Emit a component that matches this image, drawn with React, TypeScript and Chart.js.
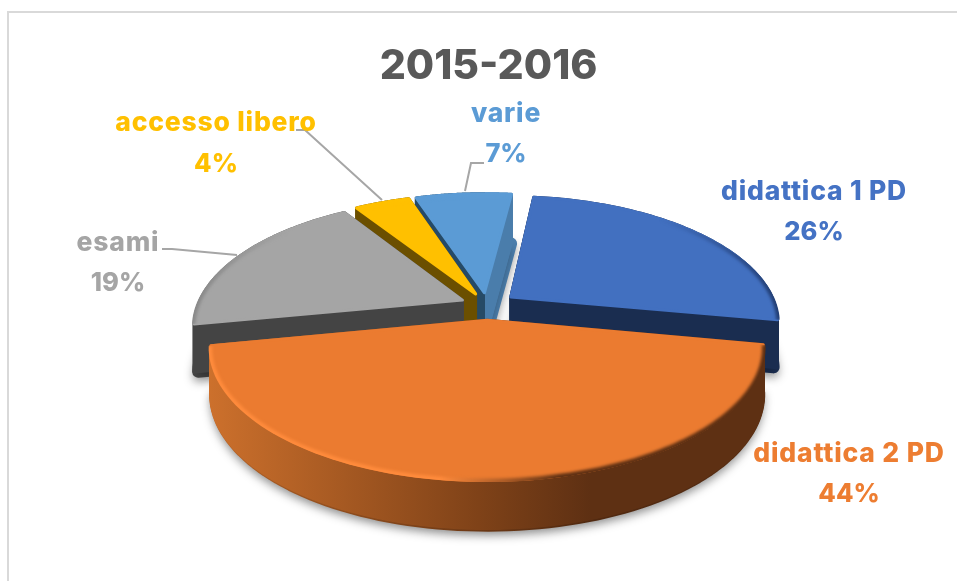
import React, { useEffect, useRef } from "react";
import { Chart, registerables } from "chart.js";

Chart.register(...registerables);

const categories = ["didattica 1 PD", "didattica 2 PD", "esami", "accesso libero", "varie"];
const shares = [26, 44, 19, 4, 7];
const chartTitle = "2015-2016";
const topColors = ["#4270c0", "#eb7b30", "#a5a5a5", "#ffc000", "#5b9bd5"];
const labelColors = ["#4472c4", "#ed7d31", "#a5a5a5", "#ffc000", "#5b9bd5"];

const explodes = [0.112, 0.12, 0.101, 0.101, 0.101];
const drawOrder = [4, 3, 2, 0, 1];
const sideStops: [number, string][][] = [
  [[0, "#1a2d50"], [1, "#1a2d50"]],
  [[0, "#cc702c"], [0.48, "#7f4218"], [0.68, "#5e3013"], [1, "#5e3013"]],
  [[0, "#444444"], [1, "#444444"]],
  [[0, "#6b4f00"], [1, "#6b4f00"]],
  [[0, "#264a66"], [0.5, "#264a66"], [0.5, "#4a7dab"], [1, "#4a7dab"]],
];
const sideRange: [number, number][] = [[500, 790], [210, 770], [190, 470], [350, 480], [475, 495]];
const rimColors = [
  ["rgba(40,70,130,0)", "#223f75"],
  ["#ff8b3c", "#5e3013"],
  ["#8a8a8a", "rgba(140,140,140,0)"],
  ["#ffc000", "#ffc000"],
  ["#5b9bd5", "#5b9bd5"],
];
const rimRange: [number, number][] = [[660, 775], [440, 560], [200, 290], [0, 1], [0, 1]];
const labelBoxes = [
  { x: 814, y1: 200, y2: 240 },
  { x: 849, y1: 462, y2: 502 },
  { x: 118, y1: 251, y2: 291 },
  { x: 216, y1: 131, y2: 172 },
  { x: 506, y1: 122, y2: 162 },
];
const leaders: [number, number][][] = [
  [],
  [],
  [[162, 249], [172, 249], [237, 255]],
  [[296, 130], [305, 130], [382, 200]],
  [[484, 163], [471, 163], [465, 191]],
];

// projection of the pie plane to the screen
const CX = 487, CY = 305, SX = 266.5, KY = 123.6, P = 0.195, DEPTH = 54;
const project = (u: number, v: number): [number, number] => {
  const w = 1 - P * v;
  return [CX + (SX * u) / w, CY + (KY * v) / w];
};

function arcPoints(el: any, radius: number) {
  const mid = (el.startAngle + el.endAngle) / 2;
  const e = explodes[el.$context.index];
  const ou = e * Math.cos(mid), ov = e * Math.sin(mid);
  const pts: [number, number][] = [];
  const n = 90;
  for (let i = 0; i <= n; i++) {
    const a = el.startAngle + ((el.endAngle - el.startAngle) * i) / n;
    pts.push(project(ou + radius * Math.cos(a), ov + radius * Math.sin(a)));
  }
  return { pts, apex: project(ou, ov) };
}

function tracePath(ctx: CanvasRenderingContext2D, el: any, dy: number, radius = 0.992) {
  const { pts, apex } = arcPoints(el, radius);
  ctx.beginPath();
  ctx.moveTo(apex[0], apex[1] + dy);
  pts.forEach((p) => ctx.lineTo(p[0], p[1] + dy));
  ctx.closePath();
}

const pie3d = {
  id: "pie3d",
  beforeDatasetsDraw(chart: any) {
    const ctx: CanvasRenderingContext2D = chart.ctx;
    const meta = chart.getDatasetMeta(0);
    meta.data.forEach((el: any, i: number) => {
      el.$context = el.$context || {};
      el.$context.index = i;
    });
    ctx.save();
    ctx.lineJoin = "round";
    for (const i of drawOrder) {
      const el = meta.data[i];
      const [x0, x1] = sideRange[i];
      const grad = ctx.createLinearGradient(x0, 0, x1, 0);
      sideStops[i].forEach(([s, c]) => grad.addColorStop(s, c));
      ctx.fillStyle = grad;
      ctx.strokeStyle = grad;

      // base with soft cast shadow and rounded corners
      ctx.save();
      ctx.shadowColor = "rgba(0,0,0,0.3)";
      ctx.shadowBlur = 9;
      ctx.shadowOffsetY = 5;
      ctx.lineWidth = 12;
      tracePath(ctx, el, DEPTH - 6, 0.978);
      ctx.stroke();
      ctx.fill();
      ctx.restore();

      // swept wall
      ctx.lineWidth = 3;
      for (let d = DEPTH - 6; d >= 0; d--) {
        tracePath(ctx, el, d);
        ctx.fill();
        ctx.stroke();
      }

      // top face
      ctx.fillStyle = topColors[i];
      ctx.strokeStyle = topColors[i];
      tracePath(ctx, el, 0);
      ctx.fill();
      ctx.stroke();

      // rim bevel
      ctx.save();
      tracePath(ctx, el, 0, 1);
      ctx.clip();
      const [r0, r1] = rimRange[i];
      const rim = ctx.createLinearGradient(r0, 0, r1, 0);
      rim.addColorStop(0, rimColors[i][0]);
      rim.addColorStop(1, rimColors[i][1]);
      ctx.filter = "blur(1.6px)";
      ctx.strokeStyle = rim;
      ctx.lineWidth = 7;
      const { pts } = arcPoints(el, 1);
      ctx.beginPath();
      pts.forEach((p, k) => (k ? ctx.lineTo(p[0], p[1]) : ctx.moveTo(p[0], p[1])));
      ctx.stroke();
      ctx.restore();
    }
    ctx.restore();
    return false;
  },
  afterDraw(chart: any) {
    const ctx: CanvasRenderingContext2D = chart.ctx;
    ctx.save();
    ctx.strokeStyle = "#a6a6a6";
    ctx.lineWidth = 2;
    leaders.forEach((line) => {
      if (!line.length) return;
      ctx.beginPath();
      line.forEach(([x, y], k) => (k ? ctx.lineTo(x, y) : ctx.moveTo(x, y)));
      ctx.stroke();
    });
    ctx.textAlign = "center";
    ctx.textBaseline = "alphabetic";
    categories.forEach((name, i) => {
      const b = labelBoxes[i];
      ctx.fillStyle = labelColors[i];
      ctx.font = "800 26.5px Inter";
      (ctx as any).letterSpacing = "0.8px";
      ctx.fillText(name, b.x, b.y1);
      ctx.font = "800 25.5px Inter";
      (ctx as any).letterSpacing = "0px";
      ctx.fillText(`${shares[i]}%`, b.x, b.y2);
    });
    ctx.restore();
  },
};

export default function App() {
  const ref = useRef<HTMLCanvasElement>(null);
  useEffect(() => {
    const chart = new Chart(ref.current!, {
      type: "pie",
      data: {
        labels: categories,
        datasets: [{ data: shares, backgroundColor: topColors, borderWidth: 0 }],
      },
      options: {
        responsive: false,
        animation: false,
        rotation: 7,
        layout: { padding: { left: 20, top: 0 } },
        plugins: {
          legend: { display: false },
          tooltip: { enabled: false },
          title: {
            display: true,
            text: chartTitle,
            color: "#595959",
            font: { family: "Inter", size: 41, weight: 800 },
            padding: { top: 42, bottom: 10 },
          },
        },
      },
      plugins: [pie3d],
    } as any);
    return () => chart.destroy();
  }, []);
  return (
    <div style={{ position: "fixed", inset: 0, background: "#fff", overflow: "hidden" }}>
      <canvas ref={ref} width={957} height={581} style={{ position: "absolute", left: 0, top: 0, display: "block" }} />
      <div style={{ position: "absolute", left: 7, top: 11, right: 0, bottom: 0, borderLeft: "2px solid #d9d9d9", borderTop: "2px solid #d9d9d9" }} />
    </div>
  );
}
